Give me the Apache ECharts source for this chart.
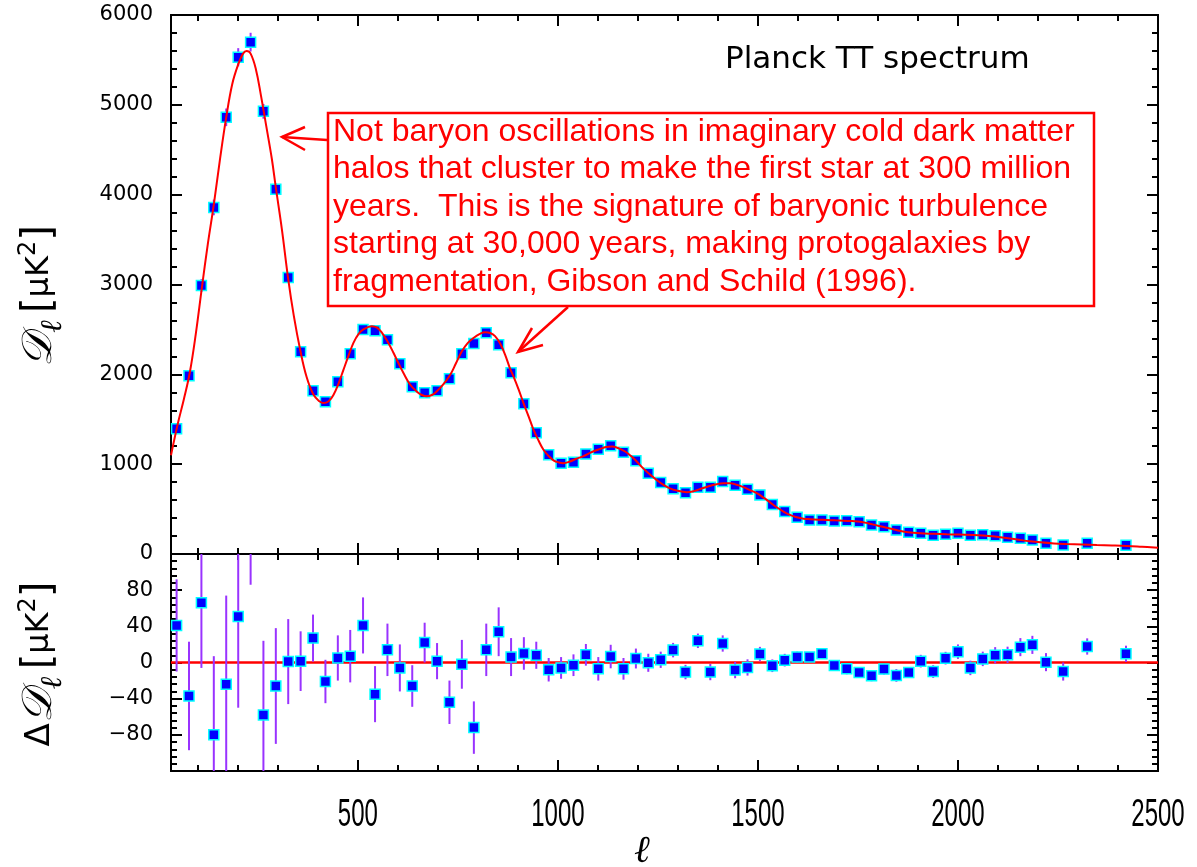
<!DOCTYPE html>
<html>
<head>
<meta charset="utf-8">
<title>Planck TT spectrum</title>
<script src="https://cdn.jsdelivr.net/npm/echarts@6/dist/echarts.min.js"></script>
<style>
  html, body { margin: 0; padding: 0; background: #fff; }
  #chart { width: 1197px; height: 867px; }
</style>
</head>
<body>
<div id="chart"></div>
<script>
// binned multipoles (shared by both panels)
const ell = [47, 78, 109, 140, 171, 201, 232, 264, 295, 326, 357, 388, 419, 450, 481, 513, 543, 574, 605, 636,
  667, 698, 729, 760, 790, 821, 852, 883, 915, 946, 977, 1008, 1039, 1070, 1101, 1132, 1164, 1195, 1226, 1257,
  1288, 1319, 1350, 1381, 1412, 1443, 1474, 1505, 1536, 1567, 1598, 1629, 1660, 1691, 1722, 1753, 1784, 1815,
  1846, 1877, 1907, 1938, 1969, 2000, 2031, 2062, 2093, 2124, 2156, 2186, 2220, 2263, 2323, 2420]

// D_l [uK^2]
const power = [1394, 1985, 2988, 3858, 4861, 5530, 5698, 4928, 4059, 3077, 2252, 1817, 1695, 1918, 2230, 2498,
  2486, 2386, 2118, 1862, 1795, 1817, 1951, 2230, 2342, 2464, 2330, 2018, 1672, 1349, 1104, 1011, 1022, 1112,
  1167, 1204, 1134, 1037, 900, 795, 725, 683, 744, 744, 806, 766, 721, 658, 550, 472, 409, 379, 379, 368, 371,
  360, 323, 304, 268, 242, 231, 208, 220, 231, 208, 215, 204, 186, 175, 156, 119, 100, 119, 97]

// 1-sigma errors [uK^2]
const powerErr = [51, 60, 72, 87, 98, 101, 104, 82, 64, 47, 33, 26, 24, 25, 29, 31, 31, 29, 26, 23, 22, 20, 24,
  27, 29, 29, 27, 21, 18, 15, 13, 12, 12, 12, 13, 13, 12, 11, 10, 9, 8, 8, 8, 9, 9, 9, 9, 8, 7, 7, 6, 5, 5, 6,
  6, 6, 6, 6, 7, 6, 7, 7, 7, 8, 8, 8, 9, 9, 10, 10, 10, 10, 9, 9]

// residuals data - model [uK^2]
const resid = [41, -37, 66, -80, -24, 51, 190, -58, -26, 1, 1.5, 27, -21, 5, 7, 41, -35, 14, -6, -26, 22, 1.5,
  -44, -2, -72, 14, 34, 6, 10, 8, -8, -6, -3, 8.5, -7, 6.6, -7, 4.4, -0.3, 3, 13.7, -10.6, 24, -10.6, 21, -8.4,
  -5.5, 9.3, -3.6, 2.6, 6, 6, 9.6, -3.3, -7, -11, -14.7, -7.3, -14.3, -11, 1.5, -10, 4.8, 12, -6, 4, 8, 8.5,
  17, 19.5, 0.4, -10, 17.7, 9.6]

// best fit model curve
const fitEll = [33, 50, 65, 80, 95, 110, 125, 140, 155, 171, 186, 201, 213, 222, 232, 245, 258, 272, 285, 295,
  310, 326, 340, 356, 372, 389, 404, 414, 427, 439, 452, 464, 477, 489, 502, 514, 535, 548, 560, 575, 589, 602,
  614, 630, 647, 660, 672, 685, 697, 714, 731, 745, 760, 775, 789, 805, 818, 831, 843, 856, 868, 880, 889, 902,
  914, 927, 939, 952, 964, 977, 990, 1002, 1014, 1030, 1046, 1064, 1085, 1106, 1120, 1135, 1150, 1168, 1183,
  1197, 1214, 1231, 1248, 1264, 1280, 1297, 1322, 1340, 1356, 1377, 1397, 1414, 1431, 1447, 1464, 1480, 1497,
  1514, 1531, 1547, 1564, 1580, 1597, 1614, 1631, 1652, 1672, 1693, 1714, 1735, 1756, 1777, 1800, 1825, 1850,
  1875, 1906, 1940, 1972, 2005, 2039, 2070, 2097, 2125, 2156, 2180, 2206, 2240, 2272, 2310, 2347, 2385, 2422,
  2460, 2500]
const fitD = [1100, 1450, 1720, 2020, 2450, 2960, 3450, 3890, 4380, 4860, 5230, 5450, 5570, 5600, 5570, 5400,
  5100, 4740, 4400, 4080, 3620, 3060, 2650, 2270, 1970, 1775, 1700, 1680, 1700, 1770, 1900, 2050, 2210, 2350,
  2450, 2500, 2535, 2520, 2465, 2360, 2240, 2120, 2015, 1890, 1810, 1770, 1755, 1770, 1810, 1890, 1995, 2120,
  2256, 2350, 2405, 2450, 2468, 2460, 2425, 2340, 2220, 2070, 1977, 1830, 1680, 1530, 1385, 1260, 1160, 1090,
  1040, 1020, 1011, 1030, 1060, 1090, 1135, 1170, 1190, 1196, 1180, 1141, 1090, 1030, 950, 881, 820, 769, 730,
  706, 688, 700, 725, 755, 777, 787, 788, 770, 744, 712, 677, 628, 572, 520, 472, 435, 409, 393, 387, 382, 379,
  375, 371, 366, 360, 340, 315, 290, 262, 243, 231, 225, 220, 216, 212, 203, 193, 176, 156, 142, 130, 118, 111,
  105, 100, 95, 89, 80, 70]

// axis ticks
const xMajor = [500, 1000, 1500, 2000, 2500]
const xMinor = []
for (let v = 100; v < 2500; v += 100) if (v % 500 !== 0) xMinor.push(v)

const annotation = [
  'Not baryon oscillations in imaginary cold dark matter',
  'halos that cluster to make the first star at 300 million',
  'years.  This is the signature of baryonic turbulence',
  'starting at 30,000 years, making protogalaxies by',
  'fragmentation, Gibson and Schild (1996).'
]

const RED = '#ff0000'
const PURPLE = '#9933ff'
const xMin = 33
const xMax = 2500

const chart = echarts.init(document.getElementById('chart'), null, { renderer: 'canvas' })

const tickAxis = (grid, position, values, len) => ({
  type: 'value',
  gridIndex: grid,
  position: position,
  min: xMin,
  max: xMax,
  axisLine: { show: true, onZero: false, lineStyle: { color: '#000', width: 2 } },
  axisTick: { show: true, inside: true, length: len, customValues: values, lineStyle: { color: '#000', width: 2 } },
  axisLabel: { show: false },
  splitLine: { show: false }
})

const yAxisBase = (grid, position, min, max, interval, labels) => ({
  type: 'value',
  gridIndex: grid,
  position: position,
  min: min,
  max: max,
  interval: interval,
  axisLine: { show: true, onZero: false, lineStyle: { color: '#000', width: 2 } },
  axisTick: { show: true, inside: true, length: 11, lineStyle: { color: '#000', width: 2 } },
  minorTick: { show: true, splitNumber: 5, length: 6, lineStyle: { color: '#000', width: 2 } },
  axisLabel: labels
    ? {
        show: true, margin: 18, color: '#000', fontSize: 21, fontFamily: 'DejaVu Sans',
        showMinLabel: true, showMaxLabel: true,
        formatter: v => (Math.abs(v) === 120 ? '' : String(v).replace('-', '\u2212'))
      }
    : { show: false },
  splitLine: { show: false },
  minorSplitLine: { show: false }
})

const errorBars = (xIdx, yIdx, values) => ({
  type: 'custom',
  xAxisIndex: xIdx,
  yAxisIndex: yIdx,
  clip: true,
  silent: true,
  z: 2,
  data: ell.map((l, i) => [l, values[i], powerErr[i]]),
  encode: { x: 0, y: 1 },
  renderItem: (params, api) => {
    const p1 = api.coord([api.value(0), api.value(1) - api.value(2)])
    const p2 = api.coord([api.value(0), api.value(1) + api.value(2)])
    return {
      type: 'line',
      shape: { x1: p1[0], y1: p1[1], x2: p2[0], y2: p2[1] },
      style: { stroke: PURPLE, lineWidth: 2 }
    }
  }
})

const points = (xIdx, yIdx, values) => ({
  type: 'scatter',
  xAxisIndex: xIdx,
  yAxisIndex: yIdx,
  clip: true,
  silent: true,
  z: 3,
  symbol: 'rect',
  symbolSize: 10,
  itemStyle: { color: '#0000ff', borderColor: '#00ffff', borderWidth: 1.5, opacity: 1 },
  data: ell.map((l, i) => [l, values[i]])
})

const nameRich = {
  d: { fontFamily: 'DejaVu Serif', fontStyle: 'italic', fontSize: 42, fill: '#000' },
  g: { fontFamily: 'DejaVu Sans', fontSize: 34, fill: '#000' },
  l: { fontFamily: 'DejaVu Serif', fontStyle: 'italic', fontSize: 30, fill: '#000', padding: [26, 4, 0, 0] },
  b: { fontFamily: 'DejaVu Sans', fontSize: 40, fill: '#000' },
  t: { fontFamily: 'DejaVu Sans', fontSize: 32, fill: '#000' },
  s: { fontFamily: 'DejaVu Sans', fontSize: 24, fill: '#000', padding: [0, 0, 22, 0] }
}

const option = {
  animation: false,
  backgroundColor: '#fff',
  grid: [
    { left: 171, top: 15, width: 987, height: 539, outerBoundsMode: 'none' },
    { left: 171, top: 554, width: 987, height: 217, outerBoundsMode: 'none' }
  ],
  xAxis: [
    tickAxis(0, 'bottom', xMajor, 11),
    tickAxis(0, 'bottom', xMinor, 6),
    tickAxis(0, 'top', xMajor, 11),
    tickAxis(0, 'top', xMinor, 6),
    tickAxis(1, 'bottom', xMajor, 11),
    tickAxis(1, 'bottom', xMinor, 6),
    tickAxis(1, 'top', xMajor, 11),
    tickAxis(1, 'top', xMinor, 6)
  ],
  yAxis: [
    yAxisBase(0, 'left', 0, 6000, 1000, true),
    yAxisBase(0, 'right', 0, 6000, 1000, false),
    yAxisBase(1, 'left', -120, 120, 40, true),
    yAxisBase(1, 'right', -120, 120, 40, false)
  ],
  series: [
    errorBars(0, 0, power),
    points(0, 0, power),
    {
      name: 'fit',
      type: 'line',
      xAxisIndex: 0,
      yAxisIndex: 0,
      smooth: 0.4,
      symbol: 'none',
      silent: true,
      z: 4,
      lineStyle: { color: RED, width: 2 },
      data: fitEll.map((l, i) => [l, fitD[i]])
    },
    errorBars(4, 2, resid),
    {
      ...points(4, 2, resid),
      markLine: {
        silent: true,
        symbol: 'none',
        label: { show: false },
        lineStyle: { color: RED, width: 2.5, type: 'solid' },
        data: [{ yAxis: 0 }],
        z: 1
      }
    }
  ],
  graphic: [
    {
      id: 'title', type: 'text', x: 725, y: 60,
      style: { text: 'Planck TT spectrum', fill: '#000', font: '31px "DejaVu Sans"', textVerticalAlign: 'middle' }
    },
    {
      id: 'box', type: 'rect',
      shape: { x: 328, y: 113, width: 766, height: 193 },
      style: { fill: '#fff', stroke: RED, lineWidth: 2.5 },
      z: 10
    },
    {
      id: 'note', type: 'text', x: 333, y: 113, z: 11,
      style: {
        text: annotation.join('\n'), fill: RED, font: '32px "Liberation Sans"', lineHeight: 37.5,
        textVerticalAlign: 'top'
      }
    },
    {
      id: 'arrow1', type: 'polyline', z: 10,
      shape: { points: [[327, 140], [282, 137]] },
      style: { stroke: RED, lineWidth: 2.5, fill: null }
    },
    {
      id: 'head1', type: 'polyline', z: 10,
      shape: { points: [[305, 127], [282, 137], [305, 150]] },
      style: { stroke: RED, lineWidth: 2.5, fill: null }
    },
    {
      id: 'arrow2', type: 'polyline', z: 10,
      shape: { points: [[568, 307], [518, 352]] },
      style: { stroke: RED, lineWidth: 2.5, fill: null }
    },
    {
      id: 'head2', type: 'polyline', z: 10,
      shape: { points: [[532, 328], [518, 352], [543, 345]] },
      style: { stroke: RED, lineWidth: 2.5, fill: null }
    },
    // axis titles
    {
      id: 'xname', type: 'text', x: 642, y: 852,
      style: { text: 'ℓ', fill: '#000', font: 'italic 38px "DejaVu Serif"', align: 'center', verticalAlign: 'middle' }
    },
    {
      id: 'yname0', type: 'text', x: 40, y: 296, rotation: Math.PI / 2,
      style: { text: '{d|𝒟}{l|ℓ} {b|[}{t|μK}{s|2}{b|]}', rich: nameRich, align: 'center', verticalAlign: 'middle' }
    },
    {
      id: 'yname1', type: 'text', x: 40, y: 664, rotation: Math.PI / 2,
      style: { text: '{g|Δ}{d|𝒟}{l|ℓ} {b|[}{t|μK}{s|2}{b|]}', rich: nameRich, align: 'center', verticalAlign: 'middle' }
    }
  ]
}

chart.setOption(option)

// tall, narrow tick numbers under the residual panel, placed with the axis scale
const xLabels = xMajor.map(v => {
  const px = chart.convertToPixel({ xAxisIndex: 4 }, v)
  return {
    id: 'xlab' + v, type: 'text', x: px, y: 815, scaleY: 1.6,
    style: { text: String(v), fill: '#000', font: '24px "Liberation Sans"', align: 'center', verticalAlign: 'middle' }
  }
})
chart.setOption({ graphic: xLabels })

window.addEventListener('resize', () => chart.resize())
</script>
</body>
</html>
